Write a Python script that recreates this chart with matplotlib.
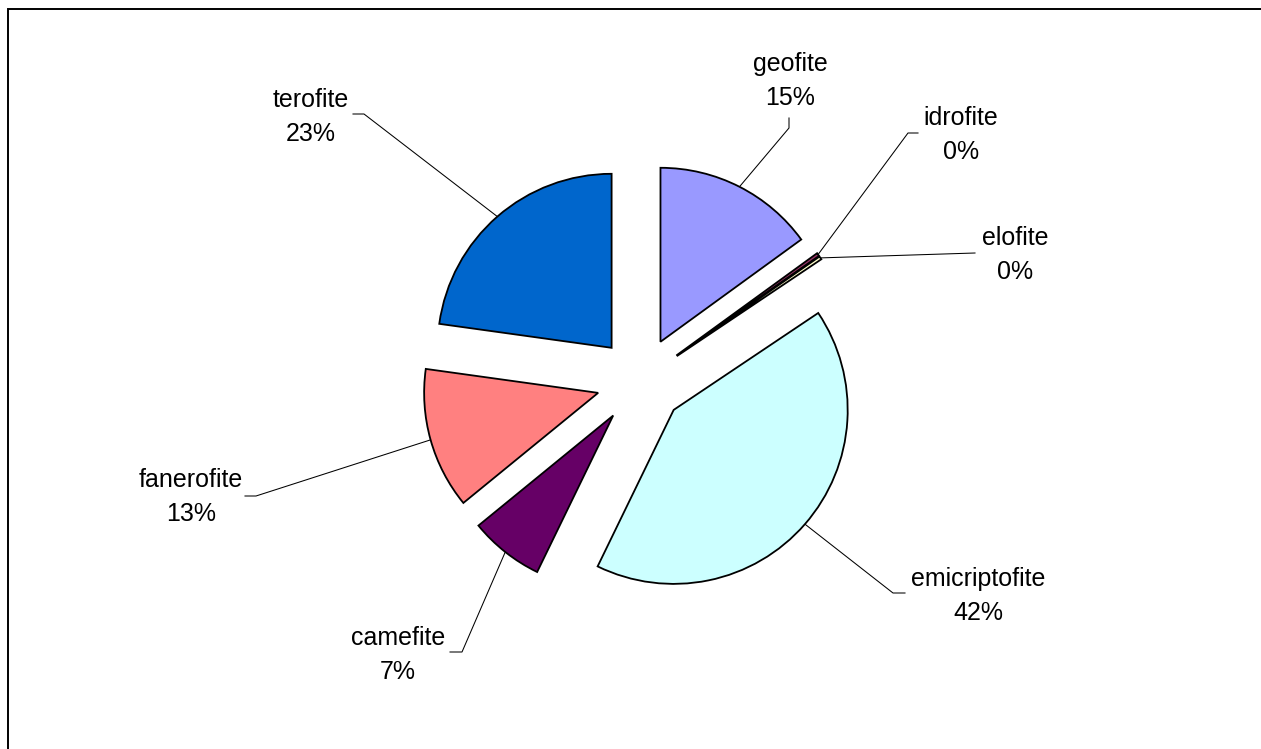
import matplotlib
matplotlib.use('Agg')
import matplotlib.pyplot as plt
from matplotlib.patches import Rectangle
import numpy as np

plt.rcParams["font.family"] = ["Liberation Sans", "DejaVu Sans"]
plt.rcParams["font.size"] = 18

# data (percent)
names = ['geofite', 'idrofite', 'elofite', 'emicriptofite', 'camefite', 'fanerofite', 'terofite']
values = [15.0, 0.3, 0.3, 41.6, 6.9, 13.1, 22.8]
colors = ['#9999FF', '#993366', '#FFFFCC', '#CCFFFF', '#660066', '#FF8080', '#0066CC']

W, H = 1261, 749

def px(x, y):
    # pixel coords (y down) -> data coords (y up)
    return x, H - y

# label layout: text centre x, first baseline y, leader elbow points (pixels)
label_pos = {
    'geofite':       (790, 71,  [(789, 128), (789, 118)]),
    'idrofite':      (961, 125, [(908, 133), (918, 133)]),
    'elofite':       (1015, 245, [(975, 253)]),
    'emicriptofite': (978, 586, [(893, 593), (905, 593)]),
    'camefite':      (398, 645, [(462, 652), (450, 652)]),
    'fanerofite':    (191, 487, [(256, 496), (245, 496)]),
    'terofite':      (311, 107, [(364, 114), (353, 114)]),
}
line_gap = 34

fig = plt.figure(figsize=(W / 100, H / 100), dpi=100)
ax = fig.add_axes([0, 0, 1, 1])

radius = 174
# explode is in data units here (pixels)
wedges, _ = ax.pie(values, colors=colors, startangle=90, counterclock=False,
                   center=px(640.5, 381), radius=radius, explode=[44] * len(values),
                   wedgeprops=dict(edgecolor='black', linewidth=1.3), frame=True)
ax.set_xlim(0, W)
ax.set_ylim(0, H)
ax.set_aspect('equal')
ax.axis('off')

total = sum(values)
for w, name, v in zip(wedges, names, values):
    mid = np.deg2rad((w.theta1 + w.theta2) / 2)
    cx, cy = w.center
    ax_, ay_ = cx + w.r * np.cos(mid), cy + w.r * np.sin(mid)
    tx, ty, elbow = label_pos[name]
    pts = [(ax_, ay_)] + [px(*p) for p in elbow]
    ax.plot([p[0] for p in pts], [p[1] for p in pts], color='black', lw=0.75, zorder=0)
    ax.text(*px(tx, ty), name, ha='center', va='baseline')
    ax.text(*px(tx, ty + line_gap), f"{100 * v / total:.0f}%", ha='center', va='baseline')

# chart frame (right and bottom edges fall outside the picture)
ax.add_patch(Rectangle(px(8, 760), 1300, 751, fill=False, edgecolor='black',
                       linewidth=1.4, clip_on=False))

fig.savefig('out.png', dpi=100, facecolor='white')
